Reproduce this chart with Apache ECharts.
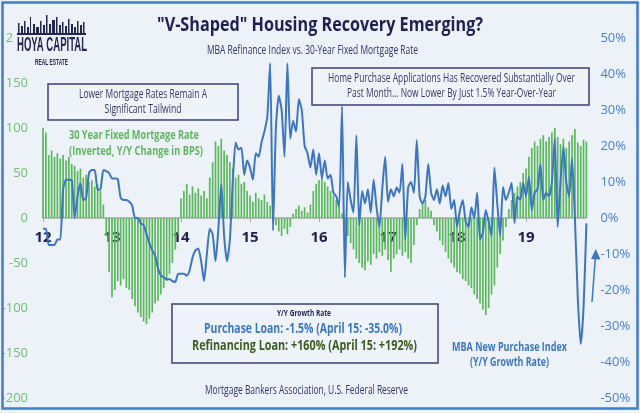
<!DOCTYPE html>
<html><head><meta charset="utf-8">
<script src="https://cdn.jsdelivr.net/npm/echarts@6/dist/echarts.min.js"></script>
<style>html,body{margin:0;padding:0;background:#edf2f9;}#c{width:640px;height:413px;}</style>
</head><body><div id="c"></div><script>
// ---- data ----
const startYear = 2012;
const pointsPerYear = 24; // semi-monthly observations
const xTickLabels = ['12','13','14','15','16','17','18','19'];
const leftAxisRange = [-200, 200, 50];   // bps
const rightAxisRange = [-50, 50, 10];    // %

// 30 Year Fixed Mortgage Rate (Inverted, Y/Y change in BPS)
const mortgageRateChangeBps = [
 100, 95, 70, 75, 68, 72, 66, 70, 64, 68,
 60, 58, 52, 55, 45, 48, 40, 42, 35, 38,
 30, 15, -20, -60, -88, -80, -70, -75, -68, -78,
 -80, -90, -98, -105, -110, -115, -118, -112, -105, -95,
 -92, -85, -78, -70, -62, -50, -35, -18, 22, 30,
 38, 26, 35, 28, 33, 25, 30, 22, 45, 62,
 85, 80, 88, 75, 70, 62, 55, 45, 48, 38,
 40, 30, 25, 18, 28, 22, 20, 26, 18, 14,
 5, -8, -15, -20, -12, -18, -10, 5, 10, 14,
 8, 12, 6, 15, 30, 38, 42, 45, 40, 35,
 30, 25, 20, 12, 5, -10, -20, -28, -35, -45,
 -50, -55, -58, -48, -52, -40, -45, -38, -42, -35,
 -47, -60, -45, -40, -35, -42, -38, -45, -50, -30,
 -8, 10, 15, 20, 12, 8, -8, -15, -25, -30,
 -38, -45, -50, -55, -60, -62, -68, -70, -75, -78,
 -85, -90, -95, -102, -108, -100, -85, -75, -55, -40,
 -25, -10, 10, 20, 28, 35, 40, 50, 55, 68,
 78, 85, 80, 88, 92, 85, 90, 95, 100, 90,
 82, 88, 78, 85, 92, 99, 84, 80, 87, 85
];

// MBA New Purchase Index (Y/Y growth rate, %)
const purchaseIndexYoY = [
 -3, -3, -7.5, -7.5, -7.5, -6, -6, 8, 10.6, 10.6,
 10.5, 0, 6, 9.7, 5, 5.5, 12.5, 13.3, 13.3, 7.8,
 8, 13.3, 13, 12.5, 11, 11, 10.8, 5.6, 5, 5,
 4.5, 3.5, 0, 0, -1.5, -2, -4.5, -7, -9, -10.5,
 -14, -16, -16.5, -17, -17, -17.5, -17.8, -15.5, -15.5, -15.5,
 -16, -14.5, -11, -9, -8.5, -12, -17.5, -10, -3, -4.5,
 -12, -3, 9.5, -5, -12, -6, 10, 21, 19, 19.5,
 12, 16, 14, 10.6, 18, 17, 21, 24, 28, 43,
 -3.5, 25, 34, 30, 17, 43, 22, 27, 24, 33,
 30, 20, 18, 14, 19, 12, 18, 11, 16, 11,
 12, 7, 6, 3, 31, -16.5, 10, 5, 1.5, 23,
 -2, 7.5, 4, 8, 1.5, 10.6, 3, -2.5, 8, 17,
 4.5, 8, 6, 8.5, 7, 15, -6, 8.5, 10, 7,
 21.7, 6, 4, 6, 15, 7, 5, 8, 4, 9,
 6, 9.7, 2.5, 5, -2.5, 2, 5, -1, -2.5, 3,
 0, 7, -6, -4, 2.2, -1, -5, 14, 4, -5,
 8.6, 5, 7, 9.7, -1.4, 6, 5, 9.7, 6, 11.4,
 2.2, 7, 8, 15, 5, 7, 6, 10, 22, -2.5,
 10, 19.7, 10, 6, 16.6, 0, -22, -35, -25, -1.5
];

const categories = mortgageRateChangeBps.map((_, i) => {
  const y = startYear + Math.floor(i / pointsPerYear);
  const k = i % pointsPerYear;
  return y + '-' + String(Math.floor(k / 2) + 1).padStart(2, '0') + (k % 2 ? '-16' : '-01');
});

// ---- layout ----
const GRID_TOP = 38, GRID_BOTTOM = 15, CHART_H = 413;
const gridHeight = CHART_H - GRID_TOP - GRID_BOTTOM;
// distance from grid bottom to the zero line of the left axis
const zeroOffset = gridHeight * (0 - leftAxisRange[0]) / (leftAxisRange[1] - leftAxisRange[0]);

// ---- helpers ----
const BG = '#edf2f9';
const NAVY = '#1e2150';
const mctx = document.createElement('canvas').getContext('2d');
function txt(text, cx, cy, width, size, weight, color, family) {
  family = family || 'Open Sans';
  mctx.font = weight + ' ' + size + 'px "' + family + '"';
  const w = mctx.measureText(text).width || width;
  return { type: 'text', x: cx, y: cy, scaleX: width / w, scaleY: 1, z: 120,
    style: { text: text, x: 0, y: 0, textAlign: 'center', textVerticalAlign: 'middle',
      align: 'center', verticalAlign: 'middle', fill: color,
      fontSize: size, fontWeight: weight, fontFamily: family } };
}
function box(x, y, w, h) {
  return { type: 'rect', z: 110, shape: { x: x, y: y, width: w, height: h },
    style: { fill: '#eff3fa', stroke: '#3b4170', lineWidth: 1.5 } };
}

const skyline = [[18,23,1.5],[21,26,2],[24,21,1.5],[27,27,2],[30,17,1],[33,24,2],[36,27,3],[40,21,1.5],
  [43,25,2],[46,15,1.5],[49,24,2],[52,20,3],[56,17,1.5],[59,25,2],[62,22,1.5],[65,26,2],[68,19,1.5],
  [71,24,2],[74,27,2],[77,21,1.5],[80,25,2],[83,22,1.5]];

const graphics = [
  { type: 'rect', z: 100, shape: { x: 2.5, y: 2.5, width: 635, height: 406 },
    style: { fill: 'none', stroke: '#3f7ec9', lineWidth: 2.5 } },
  { type: 'rect', z: 100, shape: { x: 14, y: 10, width: 80, height: 60 }, style: { fill: BG } },
  { type: 'rect', z: 101, shape: { x: 17, y: 33, width: 69, height: 2 }, style: { fill: '#23264f' } },
  ...skyline.map(s => ({ type: 'rect', z: 101, shape: { x: s[0], y: s[1], width: s[2], height: 34 - s[1] }, style: { fill: '#23264f' } })),
  txt('HOYA CAPITAL', 52, 45.5, 70, 21, 'bold', '#23264f', 'Liberation Sans'),
  txt('REAL ESTATE', 51.5, 62.5, 33, 9, 'bold', '#23264f', 'Liberation Sans'),
  txt('"V-Shaped" Housing Recovery Emerging?', 320, 25, 326, 20, 'bold', NAVY),
  txt('MBA Refinance Index vs. 30-Year Fixed Mortgage Rate', 312.5, 51, 211, 12, 'normal', '#2e3563'),
  box(48, 84, 190, 36),
  txt('Lower Mortgage Rates Remain A', 143, 95, 128, 12, 'normal', '#353b5e'),
  txt('Significant Tailwind', 143, 109.5, 77, 12, 'normal', '#353b5e'),
  box(312, 68, 277, 37),
  txt('Home Purchase Applications Has Recovered Substantially Over', 451.5, 79, 247, 12, 'normal', '#353b5e'),
  txt('Past Month... Now Lower By Just 1.5% Year-Over-Year', 451.5, 94, 209, 12, 'normal', '#353b5e'),
  txt('30 Year Fixed Mortgage Rate', 134, 136, 130, 12, 'bold', '#5cb85c'),
  txt('(Inverted, Y/Y Change in BPS)', 136, 152, 134, 12, 'bold', '#5cb85c'),
  box(172, 304, 266, 59),
  txt('Y/Y Growth Rate', 304, 314, 54, 8, 'bold', NAVY),
  txt('Purchase Loan: -1.5% (April 15: -35.0%)', 303, 329, 198, 14, 'bold', '#3a78c2'),
  txt('Refinancing Loan: +160% (April 15: +192%)', 304.5, 346, 225, 14, 'bold', '#3e5a1f'),
  txt('MBA New Purchase Index', 509.5, 347, 115, 13, 'bold', '#3a78c2'),
  txt('(Y/Y Growth Rate)', 509.5, 362, 79, 13, 'bold', '#3a78c2'),
  txt('Mortgage Bankers Association, U.S. Federal Reserve', 306.5, 391, 203, 12, 'normal', '#2e3563'),
  { type: 'line', z: 120, shape: { x1: 592, y1: 302, x2: 595.3, y2: 258 }, style: { stroke: '#3a78c2', lineWidth: 1.5 } },
  { type: 'polygon', z: 120, shape: { points: [[595.8, 249], [591, 259], [600.5, 259.5]] }, style: { fill: '#3a78c2' } }
];

const chart = echarts.init(document.getElementById('c'));
chart.setOption({
  animation: false,
  backgroundColor: BG,
  grid: { left: 43, right: 53.6, top: GRID_TOP, bottom: GRID_BOTTOM, containLabel: false, outerBoundsMode: 'none' },
  xAxis: {
    type: 'category', data: categories, boundaryGap: false, position: 'bottom', offset: -zeroOffset,
    axisLine: { onZero: false, lineStyle: { color: '#ababab', width: 1.5 } },
    axisTick: { show: true, interval: (i) => i % pointsPerYear === 0, length: 4, lineStyle: { color: '#ababab' } },
    axisLabel: { interval: (i) => i % pointsPerYear === 0, formatter: (v, i) => xTickLabels[Math.round(i / pointsPerYear)] || '',
      color: '#1b1f4b', fontWeight: 'bold', fontSize: 15, fontFamily: 'Open Sans', margin: 12 },
    splitLine: { show: false }
  },
  yAxis: [
    { type: 'value', position: 'left', min: leftAxisRange[0], max: leftAxisRange[1], interval: leftAxisRange[2],
      axisLine: { show: false }, axisTick: { show: false }, splitLine: { show: false },
      axisLabel: { color: '#6cc070', fontSize: 13, fontFamily: 'Open Sans', margin: 15 } },
    { type: 'value', position: 'right', min: rightAxisRange[0], max: rightAxisRange[1], interval: rightAxisRange[2],
      axisLine: { show: false }, axisTick: { show: false }, splitLine: { show: false },
      axisLabel: { color: '#4a80c4', fontSize: 13, fontFamily: 'Open Sans', margin: 14, formatter: '{value}%' } }
  ],
  series: [
    { name: '30 Year Fixed Mortgage Rate', type: 'bar', yAxisIndex: 0, data: mortgageRateChangeBps,
      barWidth: 1.7, itemStyle: { color: '#5ab85a' }, z: 2 },
    { name: 'MBA New Purchase Index', type: 'line', yAxisIndex: 1, data: purchaseIndexYoY,
      showSymbol: false, smooth: 0.2, lineStyle: { color: '#3a76c3', width: 2 }, z: 3 }
  ],
  graphic: { elements: graphics }
});
</script></body></html>
